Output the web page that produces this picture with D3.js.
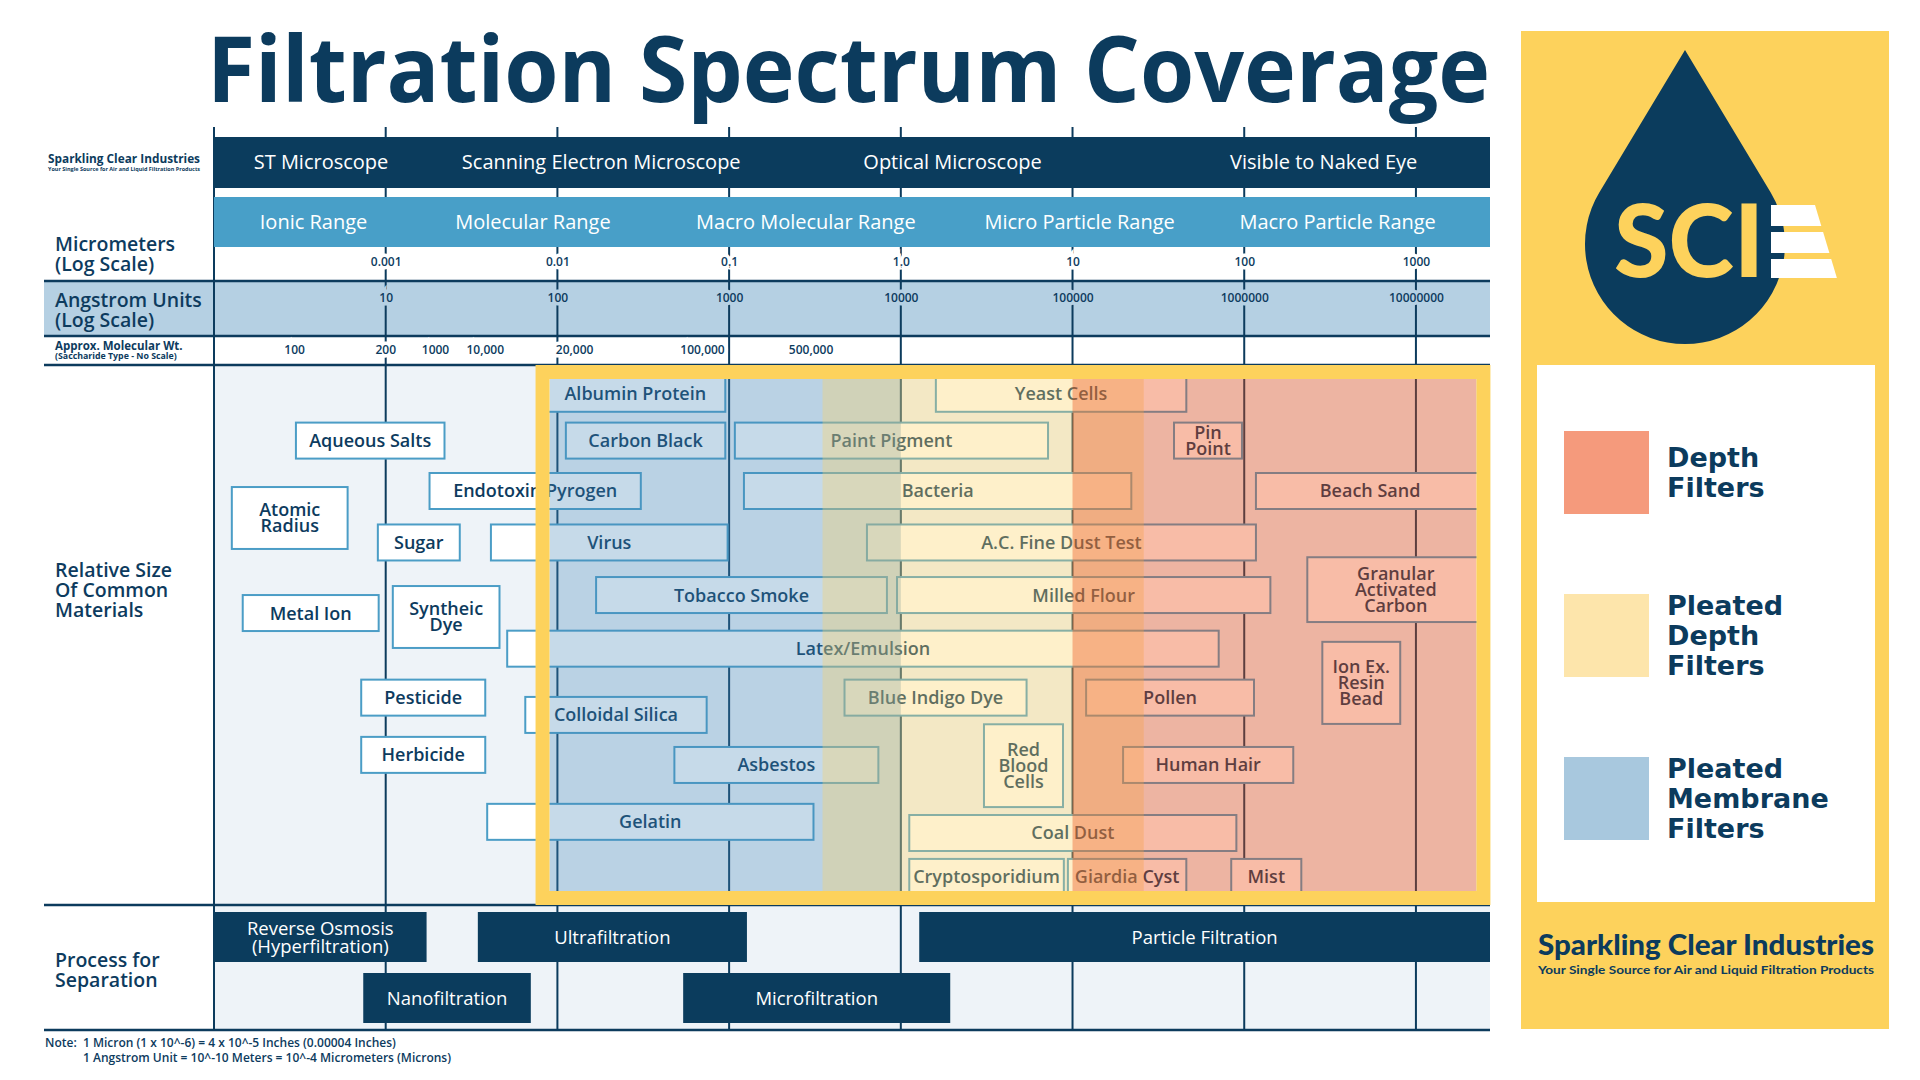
<!DOCTYPE html>
<html><head><meta charset="utf-8">
<script src="https://cdn.jsdelivr.net/npm/d3@7"></script>
<style>body{margin:0;background:#fff}svg{display:block}</style>
</head><body><svg id="c" width="1920" height="1080"></svg>
<script>
// ---------------- DATA ----------------
const decades = [0.001, 0.01, 0.1, 1, 10, 100, 1000];
const micrometerLabels = ["0.001","0.01","0.1","1.0","10","100","1000"];
const angstromLabels = ["10","100","1000","10000","100000","1000000","10000000"];
const molWtLabels = ["100","200","1000","10,000","20,000","100,000","500,000"];
const molWtAt = [0.000295, 0.001, 0.00195, 0.0038, 0.0126, 0.07, 0.30];
const microscopes = ["ST Microscope","Scanning Electron Microscope","Optical Microscope","Visible to Naked Eye"];
const microscopeAt = [0.00042, 0.018, 2.0, 290];
const sizeRanges = ["Ionic Range","Molecular Range","Macro Molecular Range","Micro Particle Range","Macro Particle Range"];
const sizeRangeAt = [0.00038, 0.0072, 0.28, 11, 350];
// [label, min µm, max µm, row (centre), rows spanned]
const materials = [
  ["Albumin Protein", 0.0085, 0.095, 0.8, 1],
  ["Yeast Cells", 1.6, 46, 0.8, 1],
  ["Aqueous Salts", 0.0003, 0.0022, 2.1, 1],
  ["Carbon Black", 0.0112, 0.095, 2.1, 1],
  ["Paint Pigment", 0.108, 7.2, 2.1, 1],
  ["Pin\nPoint", 39, 97, 2.1, 1],
  ["Endotoxin Pyrogen", 0.0018, 0.0306, 3.5, 1],
  ["Atomic\nRadius", 0.000127, 0.0006, 4.25, 1.72],
  ["Bacteria", 0.122, 22, 3.5, 1],
  ["Beach Sand", 117, 2500, 3.5, 1],
  ["Sugar", 0.0009, 0.0027, 4.93, 1],
  ["Virus", 0.0041, 0.098, 4.93, 1],
  ["A.C. Fine Dust Test", 0.635, 117, 4.93, 1],
  ["Metal Ion", 0.000147, 0.00091, 6.89, 1],
  ["Syntheic\nDye", 0.0011, 0.0046, 7.0, 1.72],
  ["Tobacco Smoke", 0.0168, 0.83, 6.39, 1],
  ["Milled Flour", 0.95, 142, 6.39, 1],
  ["Granular\nActivated\nCarbon", 233, 2500, 6.24, 1.8],
  ["Latex/Emulsion", 0.0051, 71, 7.88, 1],
  ["Ion Ex.\nResin\nBead", 285, 810, 8.83, 2.28],
  ["Pesticide", 0.00072, 0.0038, 9.24, 1],
  ["Colloidal Silica", 0.0065, 0.074, 9.72, 1],
  ["Blue Indigo Dye", 0.47, 5.4, 9.24, 1],
  ["Pollen", 12, 114, 9.24, 1],
  ["Herbicide", 0.00072, 0.0038, 10.83, 1],
  ["Asbestos", 0.048, 0.74, 11.11, 1],
  ["Red\nBlood\nCells", 3.05, 8.8, 11.13, 2.3],
  ["Human Hair", 19.7, 193, 11.11, 1],
  ["Gelatin", 0.0039, 0.31, 12.69, 1],
  ["Coal Dust", 1.12, 90, 13.0, 1],
  ["Cryptosporidium", 1.12, 8.9, 14.22, 1],
  ["Giardia Cyst", 9.4, 46, 14.22, 1],
  ["Mist", 84, 215, 14.22, 1]
];
// [label, min µm, max µm, lane]
const processes = [
  ["Reverse Osmosis\n(Hyperfiltration)", 0.0001, 0.00173, 0],
  ["Ultrafiltration", 0.00344, 0.127, 0],
  ["Particle Filtration", 1.28, 2700, 0],
  ["Nanofiltration", 0.00074, 0.007, 1],
  ["Microfiltration", 0.054, 1.94, 1]
];
const filterNames = ["Pleated Membrane Filters", "Pleated Depth Filters", "Depth Filters"];
const filterMin = [0.009, 0.35, 10];
const filterMax = [1, 26, 2250];
const legendOrder = ["Depth Filters", "Pleated Depth Filters", "Pleated Membrane Filters"];

// ---------------- STYLE / LAYOUT ----------------
const NAVY = "#0c3b5d", TXT = "#0d3b5e";
const overlayColor = {"Pleated Membrane Filters":"rgba(71,135,184,0.31)","Pleated Depth Filters":"rgba(252,212,100,0.34)","Depth Filters":"rgba(235,70,10,0.36)"};
const swatchColor = {"Depth Filters":"#f59a7c","Pleated Depth Filters":"#fde5ab","Pleated Membrane Filters":"#a8c8de"};
const FONT = "'Open Sans', 'Noto Sans', sans-serif";

const svg = d3.select("#c");
const x = d3.scaleLog().domain([0.0001, 2700]).range([214, 1490]);
const CL = x(0.0001), CR = x(2700);
const yMat = d3.scaleLinear().domain([0, 15]).range([365, 905]);
const yProc = d3.scalePoint().domain([0, 1]).range([937, 998]);

// title
svg.append("text").attr("x", 207).attr("y", 102).attr("font-family", FONT)
  .attr("font-weight", 700).attr("font-size", 91).attr("fill", NAVY)
  .attr("textLength", 1283).attr("lengthAdjust", "spacingAndGlyphs")
  .text("Filtration Spectrum Coverage");

// left small logo
svg.append("text").attr("x", 48).attr("y", 163).attr("font-family", FONT).attr("font-weight", 700)
  .attr("font-size", 12).attr("fill", NAVY).attr("textLength", 152).attr("lengthAdjust", "spacingAndGlyphs")
  .text("Sparkling Clear Industries");
svg.append("text").attr("x", 48).attr("y", 171).attr("font-family", FONT).attr("font-weight", 700)
  .attr("font-size", 5.5).attr("fill", NAVY).attr("textLength", 152).attr("lengthAdjust", "spacingAndGlyphs")
  .text("Your Single Source for Air and Liquid Filtration Products");

// background areas
svg.append("rect").attr("x", CL).attr("y", 365).attr("width", CR - CL).attr("height", 665).attr("fill", "#eef3f8");
svg.append("rect").attr("x", 44).attr("y", 281).attr("width", CR - 44).attr("height", 55).attr("fill", "#b5d0e3");

// vertical decade lines and left border
svg.append("g").selectAll("line").data(decades).join("line")
  .attr("x1", d => x(d)).attr("x2", d => x(d)).attr("y1", 127).attr("y2", 1030)
  .attr("stroke", NAVY).attr("stroke-width", 2);
svg.append("line").attr("x1", CL).attr("x2", CL).attr("y1", 127).attr("y2", 1030).attr("stroke", NAVY).attr("stroke-width", 2);

// bands
svg.append("rect").attr("x", CL).attr("y", 137).attr("width", CR - CL).attr("height", 51).attr("fill", "#0b3c5d");
svg.append("rect").attr("x", CL).attr("y", 197).attr("width", CR - CL).attr("height", 50).attr("fill", "#489fc8");
svg.append("g").selectAll("text").data(microscopes).join("text")
  .attr("x", (d, i) => x(microscopeAt[i])).attr("y", 169).attr("text-anchor", "middle")
  .attr("font-family", FONT).attr("font-size", 20).attr("font-weight", 500).attr("fill", "#fff").text(d => d);
svg.append("g").selectAll("text").data(sizeRanges).join("text")
  .attr("x", (d, i) => x(sizeRangeAt[i])).attr("y", 229).attr("text-anchor", "middle")
  .attr("font-family", FONT).attr("font-size", 20).attr("font-weight", 500).attr("fill", "#fff").text(d => d);

// horizontal rules
[281, 336, 365, 905, 1030].forEach(yy => {
  svg.append("line").attr("x1", 44).attr("x2", CR).attr("y1", yy).attr("y2", yy).attr("stroke", NAVY).attr("stroke-width", 2.5);
});

// axes: micrometers and angstroms
function labelAxis(y, labels, halo) {
  const ax = d3.axisBottom(x).tickValues(decades).tickSize(0).tickPadding(0)
    .tickFormat((d, i) => labels[i]);
  const g = svg.append("g").attr("transform", `translate(0,${y})`).call(ax);
  g.select(".domain").remove();
  g.selectAll("text").attr("dy", 0).attr("y", 0).attr("font-family", FONT).attr("font-size", 12)
    .attr("font-weight", 600).attr("fill", TXT)
    .attr("stroke", halo).attr("stroke-width", 7).attr("paint-order", "stroke");
}
labelAxis(266, micrometerLabels, "#fff");
labelAxis(302, angstromLabels, "#b5d0e3");
svg.append("g").selectAll("text").data(molWtLabels).join("text")
  .attr("x", (d, i) => x(molWtAt[i])).attr("y", 354).attr("text-anchor", "middle")
  .attr("font-family", FONT).attr("font-size", 12).attr("font-weight", 600).attr("fill", TXT)
  .attr("stroke", "#fff").attr("stroke-width", 7).attr("paint-order", "stroke").text(d => d);

// material boxes
function multiText(g, label, cx, cy, size, spacing, fill) {
  const lines = label.split("\n");
  const t = g.append("text").attr("text-anchor", "middle").attr("font-family", FONT)
    .attr("font-size", size).attr("font-weight", 600).attr("fill", fill);
  lines.forEach((ln, i) => {
    t.append("tspan").attr("x", cx).attr("y", cy - (lines.length - 1) * spacing / 2 + i * spacing + size * 0.36).text(ln);
  });
  return t;
}
const matG = svg.append("g");
materials.forEach(m => {
  const [label, lo, hi, row, span] = m;
  const h = (yMat(span) - yMat(0));
  const cy = yMat(row);
  matG.append("rect").attr("x", x(lo)).attr("y", cy - h / 2).attr("width", x(hi) - x(lo)).attr("height", h)
    .attr("fill", "#fff").attr("stroke", "#4b9dc6").attr("stroke-width", 2);
  multiText(matG, label, (x(lo) + x(hi)) / 2, cy, 18, 16, TXT);
});

// filter overlays
const frameTop = 365, frameBot = 905, FW = 14;
svg.append("g").selectAll("rect").data(filterNames).join("rect")
  .attr("x", (d, i) => x(filterMin[i])).attr("width", (d, i) => x(filterMax[i]) - x(filterMin[i]))
  .attr("y", frameTop + FW).attr("height", frameBot - frameTop - 2 * FW)
  .attr("fill", d => overlayColor[d]);
// frame around the union of filter ranges
const uMin = d3.min(filterMin), uMax = d3.max(filterMax);
svg.append("rect").attr("x", x(uMin) - FW / 2).attr("y", frameTop + FW / 2)
  .attr("width", x(uMax) - x(uMin) + FW).attr("height", frameBot - frameTop - FW)
  .attr("fill", "none").attr("stroke", "#fdd25c").attr("stroke-width", FW);

// processes
const procG = svg.append("g");
processes.forEach(p => {
  const [label, lo, hi, lane] = p;
  const cy = yProc(lane);
  procG.append("rect").attr("x", x(lo)).attr("y", cy - 25).attr("width", x(hi) - x(lo)).attr("height", 50).attr("fill", "#0b3c5d");
  const t = multiText(procG, label, (x(lo) + x(hi)) / 2, cy, 18.5, 18, "#fff");
  t.attr("font-weight", 500);
});

// left labels
function leftLabel(lines, y0, step, size, weight) {
  const t = svg.append("text").attr("font-family", FONT).attr("font-size", size).attr("font-weight", weight || 600).attr("fill", TXT);
  lines.forEach((ln, i) => t.append("tspan").attr("x", 55).attr("y", y0 + i * step).text(ln));
}
leftLabel(["Micrometers", "(Log Scale)"], 251, 19.5, 19.5);
leftLabel(["Angstrom Units", "(Log Scale)"], 307, 19.5, 19.5);
svg.append("text").attr("x", 55).attr("y", 349.5).attr("font-family", FONT).attr("font-size", 11.5).attr("font-weight", 700).attr("fill", TXT).text("Approx. Molecular Wt.");
svg.append("text").attr("x", 55).attr("y", 359).attr("font-family", FONT).attr("font-size", 8.8).attr("font-weight", 700).attr("fill", TXT).text("(Saccharide Type - No Scale)");
leftLabel(["Relative Size", "Of Common", "Materials"], 577, 20, 19.5);
leftLabel(["Process for", "Separation"], 967, 20, 19.5);

// note
const note = svg.append("text").attr("font-family", FONT).attr("font-size", 12).attr("font-weight", 600).attr("fill", TXT);
note.append("tspan").attr("x", 45).attr("y", 1047).text("Note:\u00a0\u00a01 Micron (1 x 10^-6) = 4 x 10^-5 Inches (0.00004 Inches)");
note.append("tspan").attr("x", 83).attr("y", 1062).text("1 Angstrom Unit = 10^-10 Meters = 10^-4 Micrometers (Microns)");

// ---------------- right panel ----------------
svg.append("rect").attr("x", 1521).attr("y", 31).attr("width", 368).attr("height", 998).attr("fill", "#fdd25c");
svg.append("path").attr("d", "M1685,50 L1599.3,192.5 A100,100 0 1,0 1770.7,192.5 Z").attr("fill", "#0b3c5d");
svg.append("text").attr("x", 1614).attr("y", 277).attr("font-family", "Lato, sans-serif").attr("font-weight", 900)
  .attr("font-size", 101).attr("fill", "#fdd25c").attr("textLength", 150).attr("lengthAdjust", "spacingAndGlyphs").text("SCI");
[[205, 226], [232, 253], [259, 278]].forEach(([a, b]) => {
  const r = yy => 1815 + (yy - 205) * 0.3;
  svg.append("polygon").attr("points", `1771,${a} ${r(a)},${a} ${r(b)},${b} 1771,${b}`).attr("fill", "#fff");
});
svg.append("rect").attr("x", 1537).attr("y", 365).attr("width", 338).attr("height", 537).attr("fill", "#fff");
const legY = d3.scalePoint().domain(legendOrder).range([472, 798]);
legendOrder.forEach(name => {
  const cy = legY(name);
  svg.append("rect").attr("x", 1564).attr("y", cy - 41).attr("width", 85).attr("height", 83).attr("fill", swatchColor[name]);
  const words = name.split(" ");
  const t = svg.append("text").attr("font-family", "'DejaVu Sans', sans-serif").attr("font-weight", 700)
    .attr("font-size", 27).attr("fill", NAVY);
  words.forEach((w, i) => t.append("tspan").attr("x", 1667).attr("y", cy - (words.length - 1) * 15 + i * 30 + 10).text(w));
});
svg.append("text").attr("x", 1538).attr("y", 955).attr("font-family", "Lato, sans-serif").attr("font-weight", 900)
  .attr("font-size", 28).attr("fill", NAVY).attr("textLength", 336).attr("lengthAdjust", "spacingAndGlyphs").text("Sparkling Clear Industries");
svg.append("text").attr("x", 1538).attr("y", 974).attr("font-family", "Lato, sans-serif").attr("font-weight", 700)
  .attr("font-size", 11).attr("fill", NAVY).attr("textLength", 336).attr("lengthAdjust", "spacingAndGlyphs").text("Your Single Source for Air and Liquid Filtration Products");
</script></body></html>
